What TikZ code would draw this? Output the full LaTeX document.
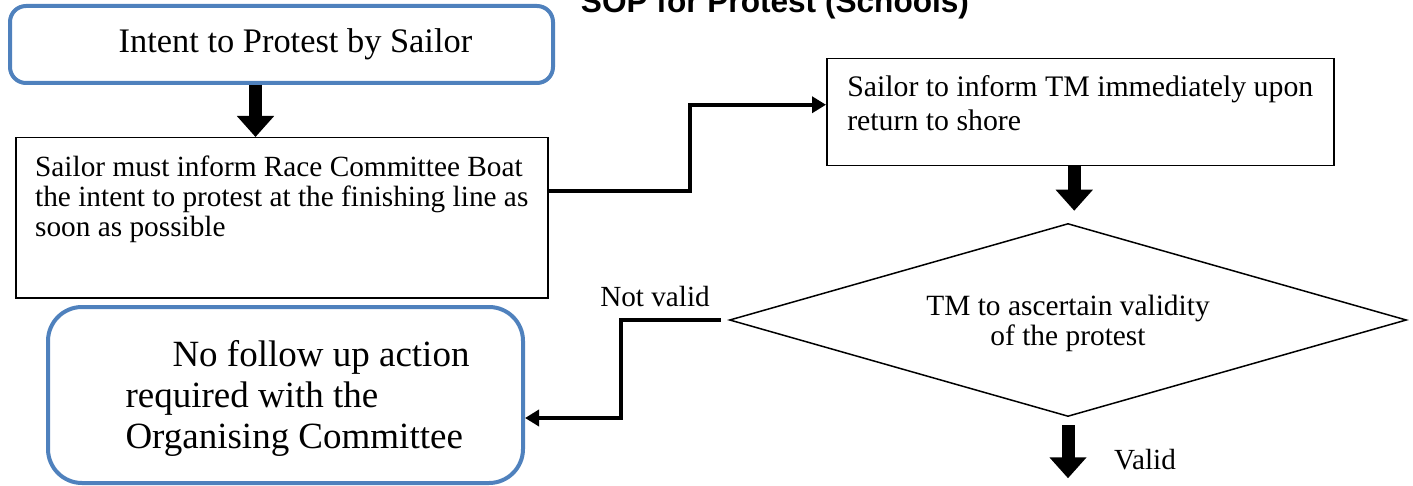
\documentclass[tikz,border=0pt]{standalone}
\usepackage{fontspec}
\setmainfont{Liberation Serif}
\newfontfamily\titlefont{Liberation Sans}
\usetikzlibrary{shapes.geometric,arrows.meta,positioning}
\definecolor{boxblue}{HTML}{4F81BD}

\begin{document}
\begin{tikzpicture}[x=0.5pt, y=-0.5pt,
	bluebox/.style={draw=boxblue, line width=2pt, rounded corners=8pt, align=center},
	plainbox/.style={draw, line width=0.75pt, align=left, inner sep=0pt, anchor=north west},
	decision/.style={diamond, draw, line width=0.75pt, aspect=3.5, align=center, minimum width=338.5pt, minimum height=96.5pt},
	blockarrow/.style={line width=6.5pt, -{Triangle[width=18pt,length=10.5pt]}},
	flowline/.style={line width=2pt, -{Triangle[width=8pt,length=7pt]}},
	lbl/.style={font=\fontsize{14.6}{16}\selectfont}]
	\useasboundingbox (0,0) rectangle (1413,486);
	\node[font=\titlefont\bfseries\fontsize{15.8}{18}\selectfont, anchor=base] (title) at (775,13) {SOP for Protest (Schools)};
	\node[bluebox, minimum width=271.5pt, minimum height=38.5pt, font=\fontsize{17.2}{20}\selectfont] (intent) at (281.5,44.5) {\hspace*{14pt}Intent to Protest by Sailor};
	\node[plainbox, minimum width=266pt, text height=49.5pt, text depth=30.5pt, font=\fontsize{14.65}{15}\selectfont] (inform) at (15,137) {Sailor must inform Race Committee Boat\\the intent to protest at the finishing line as\\soon as possible};
	\node[plainbox, minimum width=253.5pt, text height=36pt, text depth=17.5pt, font=\fontsize{14.9}{17}\selectfont] (shore) at (826,58) {Sailor to inform TM immediately upon\\return to shore};
	\node[decision, text height=29pt, text depth=3.2pt, font=\fontsize{14.7}{15}\selectfont] (check) at (1068,320) {TM to ascertain validity\\of the protest};
	\node[bluebox, rounded corners=17pt, minimum width=237.5pt, minimum height=88pt, align=left, text height=57.8pt, text depth=4pt, font=\fontsize{18.5}{20.5}\selectfont] (nofollow) at (285.5,395) {\hspace*{35.5pt}No follow up action\\\hspace*{12pt}required with the\\\hspace*{12pt}Organising Committee};
	\coordinate[below=30.5pt of check.south] (validend);
	% connectors
	\draw[blockarrow] ([xshift=-13pt]intent.south) -- ([xshift=-13pt]intent.south |- inform.north);
	\draw[flowline] ([yshift=13.5pt]inform.east) -- ++(141,0) |- ([yshift=3.75pt]shore.west);
	\draw[blockarrow] ([xshift=-3pt]shore.south) -- ([xshift=-3pt,yshift=6pt]shore.south |- check.north);
	\draw[flowline] ([xshift=-4pt]check.west) -- ++(-100,0) |- ([yshift=-11.5pt]nofollow.east);
	\draw[blockarrow] ([yshift=-4pt]check.south) -- (validend);
	\node[lbl] (notvalid) at (655,297) {Not valid};
	\node[lbl] (valid) at (1145,460) {Valid};
\end{tikzpicture}
\end{document}
